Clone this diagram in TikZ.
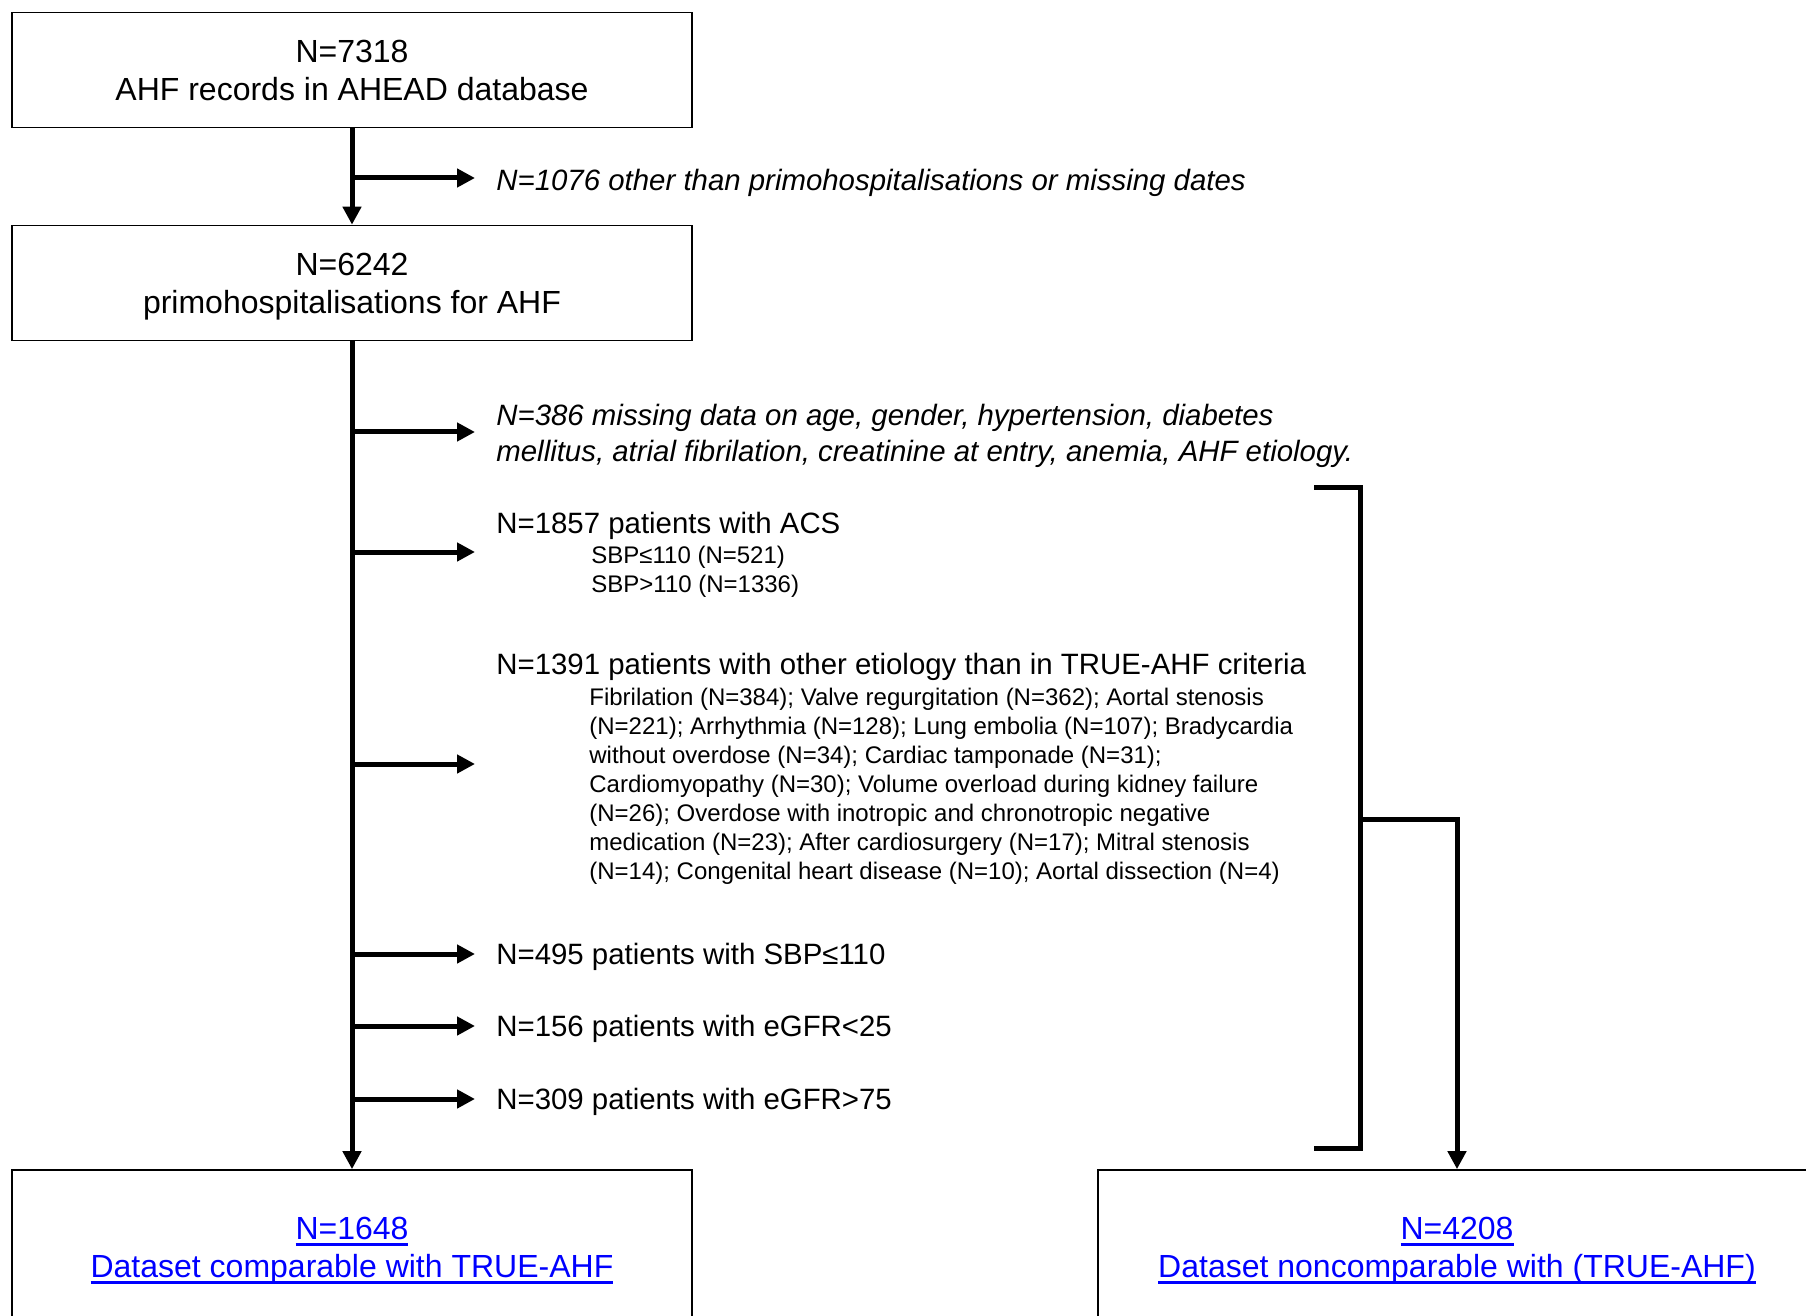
\documentclass[tikz,border=0pt]{standalone}
\usepackage{fontspec}
\setmainfont{Liberation Sans}
\usetikzlibrary{arrows.meta,positioning}
\definecolor{linkblue}{HTML}{0000FF}
\newcommand{\headfont}{\fontsize{16}{19}\selectfont}
\newcommand{\exclfont}{\fontsize{14.7}{18}\selectfont}
\newcommand{\subfont}{\fontsize{12}{14.5}\selectfont}
\newcommand{\topstrut}[1]{\rule{0pt}{#1}}
\newsavebox{\linkbox}
\newcommand{\linkul}[1]{%
  \sbox{\linkbox}{#1}\rlap{\rule[-2.95pt]{\wd\linkbox}{1.3pt}}\usebox{\linkbox}}

\begin{document}
\begin{tikzpicture}[
  x=0.5pt,y=-0.5pt,
  box/.style={
    draw=black,line width=0.85pt,fill=white,
    minimum width=340pt,minimum height=57.5pt,
    align=center,inner sep=4pt,font=\headfont
  },
  result/.style={box,minimum height=81pt,text=linkblue},
  excl/.style={anchor=west,align=left,inner xsep=10.5pt,inner ysep=0pt,font=\exclfont},
  single/.style={excl,text height=10.5pt,text depth=0pt},
  sublist/.style={excl,font=\subfont},
  flow/.style={-{Triangle[length=9pt,width=9pt]},draw=black,line width=2.5pt},
  bracket/.style={draw=black,line width=2.5pt}
]
\useasboundingbox (0,0) rectangle (1806,1316);
\clip (0,0) rectangle (1806,1316);

\node[box] (records) at (352,70) {N=7318\\AHF records in AHEAD database};
\node[box] (primo) at (352,283)
  {N=6242\\\raisebox{0pt}[\height][0pt]{primohospitalisations for AHF}};

\node[result] (comparable) at (352,1251)
  {\linkul{N=1648}\\\linkul{Dataset comparable with TRUE-AHF}};
\node[result,minimum width=359pt] (noncomparable) at (1457,1251)
  {\linkul{N=4208}\\\linkul{Dataset noncomparable with (TRUE-AHF)}};

% exclusions
\node[single,font=\exclfont\itshape,text height=12.5pt] (exdates) at (475,178)
  {N=1076 other than primohospitalisations or missing dates};
\node[excl,font=\exclfont\itshape] (exmissing) at (475,432) {
  \topstrut{14.1pt}N=386 missing data on age, gender, hypertension, diabetes\\
  mellitus, atrial fibrilation, creatinine at entry, anemia, AHF etiology.
};
\node[sublist] (exacs) at (475,552) {
  {\exclfont\topstrut{13.7pt}N=1857 patients with ACS}\\[0.7pt]
  \hspace*{47.5pt}SBP≤110 (N=521)\\
  \hspace*{47.5pt}SBP>110 (N=1336)
};
\node[sublist] (exetiol) at (475,764) {
  {\exclfont\topstrut{15.4pt}N=1391 patients with other etiology than in TRUE-AHF criteria}\\[0.7pt]
  \hspace*{46.5pt}Fibrilation (N=384); Valve regurgitation (N=362); Aortal stenosis\\
  \hspace*{46.5pt}(N=221); Arrhythmia (N=128); Lung embolia (N=107); Bradycardia\\
  \hspace*{46.5pt}without overdose (N=34); Cardiac tamponade (N=31);\\
  \hspace*{46.5pt}Cardiomyopathy (N=30); Volume overload during kidney failure\\
  \hspace*{46.5pt}(N=26); Overdose with inotropic and chronotropic negative\\
  \hspace*{46.5pt}medication (N=23); After cardiosurgery (N=17); Mitral stenosis\\
  \hspace*{46.5pt}(N=14); Congenital heart disease (N=10); Aortal dissection (N=4)
};
\node[single] (exsbp) at (475,954) {N=495 patients with SBP≤110};
\node[single] (exlowgfr) at (475,1026) {N=156 patients with eGFR<25};
\node[single] (exhighgfr) at (475,1099) {N=309 patients with eGFR>75};

% bracket
\coordinate (brtop) at (1314,487);
\coordinate (brbot) at (1314,1148);
\coordinate (brmid) at (1360,819);

\draw[flow] (records) -- (primo);
\draw[flow] (records.south |- exdates.west) -- (exdates.west);
\draw[flow] (primo) -- (comparable);
\foreach \ex in {exmissing,exacs,exetiol,exsbp,exlowgfr,exhighgfr}
  \draw[flow] (primo.south |- \ex.west) -- (\ex.west);
\draw[bracket] (brtop) -- ++(46,0) |- (brbot);
\draw[flow] (brmid) -| (noncomparable.north);

\end{tikzpicture}
\end{document}
